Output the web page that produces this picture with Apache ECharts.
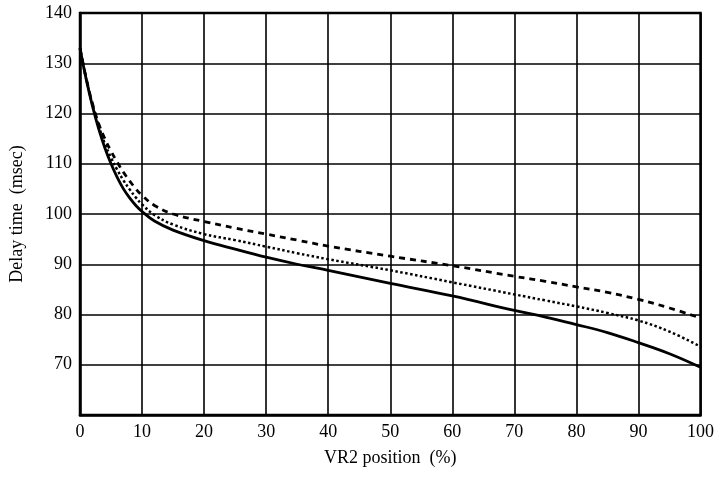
<!DOCTYPE html>
<html>
<head>
<meta charset="utf-8">
<script src="https://cdn.jsdelivr.net/npm/echarts@6/dist/echarts.min.js"></script>
<style>
  html, body { margin: 0; padding: 0; background: #fff; }
  #main { width: 717px; height: 484px; }
</style>
</head>
<body>
<div id="main"></div>
<script>
// VR2 position (%)
var positions = [0, 1, 2, 3, 4, 5, 6, 7, 8, 9, 10, 12, 15, 20, 25, 30, 35, 40, 50, 60, 70, 75, 80, 85, 90, 95, 100];
// delay time (msec) for each curve
var solidVals  = [133, 126.8, 121.5, 117, 113.2, 110, 107.3, 105, 103.2, 101.7, 100.5, 98.6, 96.8, 94.7, 93, 91.4, 90, 88.8, 86.2, 83.7, 80.8, 79.5, 78, 76.4, 74.4, 72.2, 69.5];
var dashedVals = [133, 127, 122, 118, 115, 112.5, 110.3, 108.3, 106.6, 105, 103.7, 101.7, 100, 98.5, 97.2, 96, 94.8, 93.6, 91.6, 89.7, 87.6, 86.6, 85.5, 84.4, 83, 81.3, 79.3];
var dottedVals = [133, 126.9, 121.8, 117.6, 114, 111.2, 108.8, 106.7, 104.9, 103.3, 101.9, 99.8, 97.9, 96, 94.8, 93.5, 92.2, 91, 88.8, 86.4, 84, 82.8, 81.6, 80.3, 78.8, 76.6, 73.6];

function pairs(vals) {
    return positions.map(function(p, i) { return [p, vals[i]]; });
}

var serif = '"Liberation Serif", "DejaVu Serif", serif';
var chart = echarts.init(document.getElementById('main'));

function line(vals, type, width) {
    return {
        type: 'line',
        data: pairs(vals),
        smooth: 0.4,
        showSymbol: false,
        lineStyle: { color: '#000', width: width, type: type },
        z: 5
    };
}

chart.setOption({
    animation: false,
    backgroundColor: '#fff',
    grid: { left: 79, right: 15, top: 13, bottom: 69, show: true, borderColor: '#000', borderWidth: 2.5 },
    xAxis: {
        type: 'value', min: 0, max: 100, interval: 10,
        name: 'VR2 position  (%)', nameLocation: 'middle', nameGap: 34,
        nameTextStyle: { fontFamily: serif, fontSize: 18, color: '#000' },
        axisLine: { show: true, lineStyle: { color: '#000', width: 2.5 } },
        axisTick: { show: false },
        axisLabel: { fontFamily: serif, fontSize: 18, color: '#000', margin: 8 },
        splitLine: { show: true, lineStyle: { color: '#000', width: 1.6 } }
    },
    yAxis: {
        type: 'value', min: 60, max: 140, interval: 10,
        name: 'Delay time  (msec)', nameLocation: 'middle', nameGap: 54,
        nameTextStyle: { fontFamily: serif, fontSize: 18, color: '#000' },
        axisLine: { show: true, lineStyle: { color: '#000', width: 2.5 } },
        axisTick: { show: false },
        axisLabel: {
            fontFamily: serif, fontSize: 18, color: '#000', margin: 8,
            formatter: function(v) { return v === 60 ? '' : v; }
        },
        splitLine: { show: true, lineStyle: { color: '#000', width: 1.6 } }
    },
    series: [
        line(solidVals, 'solid', 2.8),
        line(dashedVals, [6, 5], 2.8),
        line(dottedVals, [2.5, 2.5], 2.5)
    ]
});
</script>
</body>
</html>
